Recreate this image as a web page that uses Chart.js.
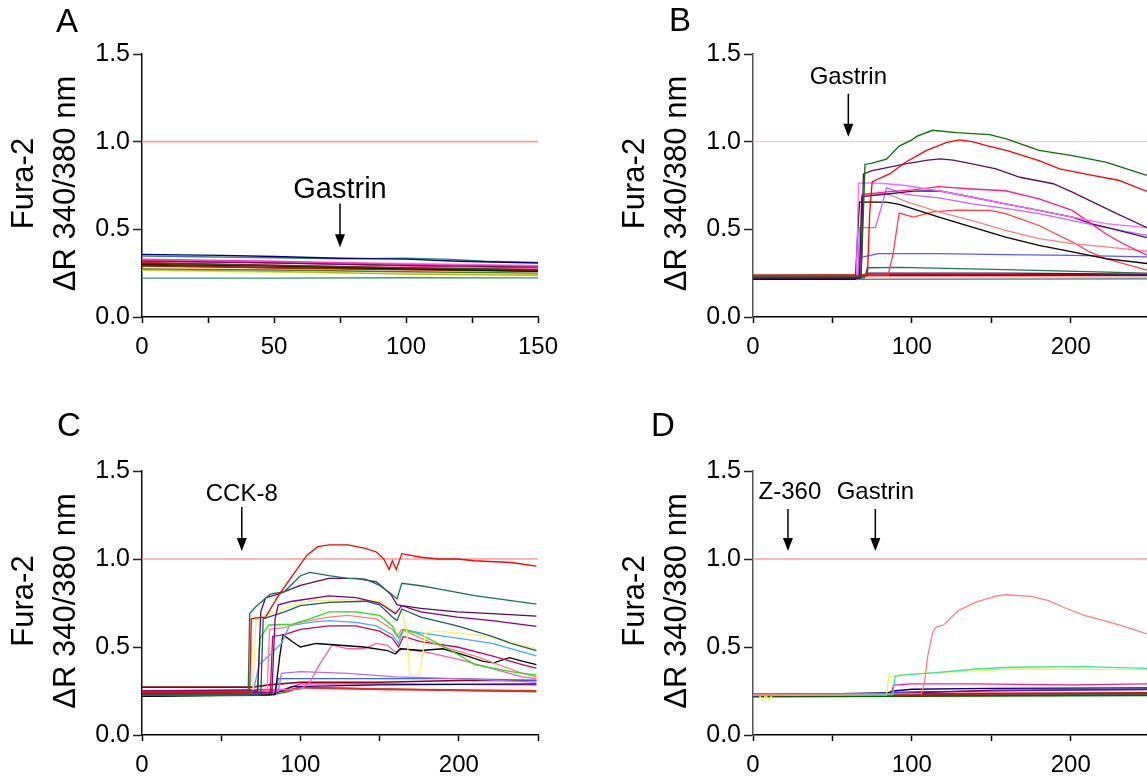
<!DOCTYPE html>
<html>
<head>
<meta charset="utf-8">
<script src="https://cdn.jsdelivr.net/npm/chart.js@4.4.0/dist/chart.umd.min.js"></script>
<style>
body { margin: 0; background: #fff; }
#fig { position: relative; width: 1147px; height: 778px; overflow: hidden; }
canvas { position: absolute; }
</style>
</head>
<body>
<div id="fig">
<canvas id="panelA" width="574" height="389" style="left:0;top:0"></canvas>
<canvas id="panelB" width="573" height="389" style="left:574px;top:0"></canvas>
<canvas id="panelC" width="574" height="389" style="left:0;top:389px"></canvas>
<canvas id="panelD" width="573" height="389" style="left:574px;top:389px"></canvas>
</div>
<script>
// axis ticks
const yTicks = [0, 0.5, 1.0, 1.5];
const xTicksA = [0, 25, 50, 75, 100, 125, 150];
const xLabelsA = [0, 50, 100, 150];
const xTicksBD = [0, 50, 100, 150, 200];
const xTicksC = [0, 50, 100, 150, 200, 250];
const xLabelsBCD = [0, 100, 200];

// panel A traces [time s, ratio]
const a_navy = [[0,0.357],[30,0.352],[50,0.345],[75,0.335],[100,0.33],[120,0.318],[150,0.308]];
const a_teal = [[0,0.348],[50,0.338],[75,0.332],[100,0.336],[115,0.33],[130,0.318],[150,0.312]];
const a_purple = [[0,0.32],[50,0.308],[100,0.295],[150,0.285]];
const a_magenta = [[0,0.33],[50,0.318],[100,0.3],[150,0.29]];
const a_pink = [[0,0.325],[50,0.315],[100,0.305],[150,0.295]];
const a_hotpink = [[0,0.318],[50,0.31],[100,0.29],[150,0.28]];
const a_dgreen = [[0,0.305],[50,0.295],[100,0.28],[150,0.27]];
const a_black = [[0,0.3],[50,0.29],[100,0.275],[150,0.26]];
const a_red = [[0,0.31],[50,0.295],[100,0.28],[150,0.27]];
const a_red2 = [[0,0.295],[50,0.28],[100,0.27],[150,0.262]];
const a_dred = [[0,0.29],[50,0.282],[100,0.272],[150,0.268]];
const a_green = [[0,0.275],[50,0.268],[100,0.258],[150,0.25]];
const a_olive = [[0,0.27],[50,0.26],[100,0.245],[150,0.238]];
const a_yellow = [[0,0.265],[50,0.255],[100,0.248],[150,0.242]];
const a_seagreen = [[0,0.222],[50,0.222],[100,0.224],[150,0.223]];

// panel B traces
const b_green = [[0,0.228],[68,0.23],[69.5,0.6],[70.5,0.87],[75,0.877],[84,0.9],[92,0.975],[100,1.01],[103,1.03],[113,1.065],[128,1.052],[149,1.04],[160,1.015],[180,0.95],[201,0.92],[222,0.883],[248,0.807]];
const b_red = [[0,0.235],[72,0.235],[73.5,0.6],[75,0.77],[77,0.78],[86,0.816],[96,0.883],[109,0.949],[122,0.996],[130,1.01],[138,1.0],[147,0.977],[160,0.949],[180,0.892],[193,0.845],[212,0.81],[230,0.78],[248,0.716]];
const b_purple = [[0,0.225],[68,0.225],[69.5,0.816],[75,0.835],[86,0.855],[96,0.873],[110,0.895],[118,0.902],[126,0.895],[138,0.873],[153,0.845],[168,0.797],[189,0.76],[201,0.712],[214,0.655],[227,0.598],[248,0.509]];
const b_violet = [[0,0.232],[65,0.232],[66.5,0.763],[75,0.765],[84,0.76],[96,0.75],[117,0.72],[138,0.683],[159,0.645],[180,0.608],[201,0.57],[222,0.532],[248,0.51]];
const b_deeppink = [[0,0.228],[68,0.228],[69.5,0.70],[86,0.715],[101,0.725],[117,0.744],[138,0.73],[159,0.72],[180,0.674],[201,0.608],[222,0.475],[233,0.418],[248,0.352]];
const b_indigo = [[0,0.22],[67,0.22],[68.5,0.687],[86,0.703],[101,0.718],[117,0.72],[138,0.683],[159,0.645],[180,0.608],[201,0.57],[214,0.53],[222,0.513],[248,0.453]];
const b_orchid = [[0,0.225],[66,0.225],[67,0.51],[77,0.51],[80,0.6],[84,0.737],[96,0.699],[117,0.68],[138,0.645],[159,0.62],[180,0.589],[201,0.55],[222,0.51],[248,0.466]];
const b_black = [[0,0.215],[64.5,0.215],[66,0.5],[67,0.655],[84,0.655],[92,0.642],[117,0.57],[138,0.513],[159,0.456],[180,0.409],[201,0.371],[222,0.333],[248,0.305]];
const b_coral = [[0,0.225],[67,0.225],[68.5,0.70],[84,0.705],[96,0.66],[117,0.60],[138,0.55],[159,0.494],[180,0.447],[201,0.419],[222,0.40],[248,0.375]];
const b_tomato = [[0,0.235],[85,0.24],[88,0.35],[92,0.593],[101,0.57],[113,0.6],[128,0.61],[149,0.608],[159,0.59],[180,0.522],[201,0.428],[212,0.371],[222,0.333],[248,0.267]];
const b_blue = [[0,0.225],[66,0.225],[67,0.338],[79,0.362],[117,0.362],[159,0.356],[201,0.352],[248,0.343]];
const b_seagreen = [[0,0.222],[70,0.222],[72,0.281],[92,0.283],[159,0.27],[248,0.25]];
const b_navy = [[0,0.23],[70,0.23],[72,0.25],[159,0.25],[248,0.245]];
const b_teal = [[0,0.215],[248,0.218]];
const b_rose = [[0,0.228],[100,0.23],[248,0.228]];
const b_dred = [[0,0.238],[248,0.238]];
const b_redbase = [[0,0.235],[100,0.24],[248,0.24]];

// panel C traces
const c_red = [[0,0.24],[68,0.24],[69,0.66],[72,0.665],[78,0.67],[86,0.79],[95,0.905],[104,1.02],[111,1.07],[118,1.08],[130,1.08],[141,1.06],[148,1.04],[152.6,1.0],[156,0.94],[158,0.99],[160.5,0.94],[164,1.03],[176,1.01],[187,1.0],[199,1.0],[210,0.99],[233,0.98],[249,0.96]];
const c_green = [[0,0.225],[67,0.225],[68,0.69],[72,0.73],[81,0.80],[90,0.815],[100,0.905],[106,0.924],[118,0.905],[130,0.89],[141,0.886],[150,0.85],[157.7,0.80],[161,0.773],[164,0.862],[176,0.848],[187,0.83],[210,0.792],[233,0.763],[249,0.744]];
const c_purple = [[0,0.25],[73,0.25],[75,0.70],[78,0.78],[86,0.80],[100,0.85],[118,0.89],[135,0.89],[148,0.87],[157,0.80],[161,0.74],[164,0.735],[176,0.72],[199,0.70],[221,0.69],[249,0.675]];
const c_purple2 = [[0,0.235],[82,0.24],[84,0.66],[86,0.74],[95,0.76],[118,0.79],[135,0.78],[150,0.75],[160,0.69],[164,0.735],[176,0.70],[199,0.67],[221,0.65],[249,0.617]];
const c_teal = [[0,0.23],[75,0.23],[76.5,0.66],[90,0.70],[100,0.735],[118,0.754],[141,0.76],[150,0.74],[158,0.67],[161,0.65],[164,0.716],[176,0.67],[199,0.62],[221,0.56],[233,0.52],[249,0.479]];
const c_yellow = [[0,0.245],[70,0.245],[72,0.66],[90,0.72],[106,0.76],[130,0.77],[150,0.76],[160,0.70],[164,0.70],[167,0.60],[169,0.34],[175,0.34],[177,0.45],[179,0.58],[187,0.59],[210,0.57],[233,0.53],[249,0.49]];
const c_lime = [[0,0.23],[73,0.23],[74.5,0.55],[80,0.625],[95,0.63],[106,0.66],[118,0.70],[135,0.70],[150,0.68],[158,0.62],[162,0.55],[165,0.60],[176,0.57],[187,0.52],[199,0.46],[210,0.40],[233,0.36],[249,0.34]];
const c_salmon = [[0,0.235],[79,0.235],[80.5,0.60],[90,0.61],[100,0.64],[118,0.67],[130,0.68],[148,0.66],[158,0.60],[161,0.56],[164,0.60],[176,0.55],[190,0.50],[210,0.45],[225,0.40],[240,0.35],[249,0.33]];
const c_skyblue = [[0,0.24],[70,0.24],[74,0.40],[80,0.45],[88,0.52],[93,0.62],[106,0.64],[118,0.65],[135,0.64],[148,0.62],[158,0.57],[162,0.52],[165,0.60],[176,0.58],[199,0.55],[221,0.52],[249,0.45]];
const c_crimson = [[0,0.24],[81,0.24],[82.5,0.56],[90,0.57],[100,0.60],[118,0.62],[135,0.62],[150,0.59],[158,0.55],[162,0.50],[165,0.56],[176,0.53],[199,0.50],[221,0.45],[240,0.40],[249,0.38]];
const c_black = [[0,0.22],[84,0.23],[87,0.45],[89,0.57],[95,0.53],[100,0.50],[110,0.52],[125,0.51],[140,0.50],[155,0.48],[160,0.46],[163,0.49],[176,0.48],[190,0.49],[205,0.45],[215,0.42],[222,0.41],[232,0.44],[240,0.42],[249,0.40]];
const c_hotpink = [[0,0.235],[100,0.26],[106,0.30],[112,0.40],[120,0.51],[130,0.49],[140,0.49],[148,0.52],[155,0.51],[160,0.47],[165,0.49],[180,0.47],[200,0.43],[220,0.38],[240,0.33],[249,0.32]];
const c_lavender = [[0,0.245],[86,0.245],[88,0.35],[100,0.36],[130,0.35],[160,0.33],[200,0.32],[249,0.30]];
const c_blue = [[0,0.24],[84,0.24],[86,0.32],[150,0.32],[200,0.32],[249,0.31]];
const c_dred = [[0,0.272],[70,0.272],[80,0.285],[100,0.30],[150,0.30],[200,0.31],[249,0.31]];
const c_navy = [[0,0.235],[85,0.24],[95,0.275],[150,0.285],[249,0.29]];
const c_redlow = [[0,0.24],[90,0.25],[100,0.27],[150,0.26],[249,0.25]];
const c_forest = [[0,0.22],[80,0.225],[92,0.245],[100,0.27],[160,0.26],[249,0.245]];
const c_magenta = [[0,0.25],[90,0.26],[100,0.29],[150,0.29],[249,0.285]];

// panel D traces
const d_salmon = [[0,0.23],[106,0.235],[108,0.30],[110,0.45],[113,0.58],[115,0.612],[120,0.625],[129,0.706],[140,0.754],[152,0.788],[159,0.797],[175,0.788],[186,0.763],[198,0.716],[209,0.678],[221,0.65],[232,0.621],[248,0.574]];
const d_spring = [[0,0.225],[88,0.23],[89.5,0.333],[94,0.34],[117,0.356],[140,0.375],[163,0.385],[209,0.388],[248,0.379]];
const d_yellow = [[0,0.225],[4,0.225],[6,0.195],[8,0.225],[10,0.2],[12,0.225],[84,0.228],[85.5,0.33],[94,0.345],[117,0.355],[163,0.375],[248,0.372]];
const d_deeppink = [[0,0.23],[87,0.232],[88.5,0.284],[100,0.29],[140,0.29],[200,0.285],[248,0.29]];
const d_navy = [[0,0.225],[82,0.228],[88,0.25],[100,0.26],[150,0.265],[248,0.268]];
const d_purple = [[0,0.228],[90,0.235],[150,0.255],[248,0.258]];
const d_blue = [[0,0.222],[100,0.245],[200,0.255],[248,0.26]];
const d_dgreen = [[0,0.218],[248,0.225]];
const d_teal = [[0,0.22],[248,0.23]];
const d_red2 = [[0,0.228],[248,0.232]];
const d_red = [[0,0.232],[100,0.235],[248,0.238]];

const FONT = '"Liberation Sans", Arial, sans-serif';

const decorPlugin = {
    id: 'decor',
    afterDraw(chart, args, opts) {
        const ctx = chart.ctx;
        const xs = chart.scales.x;
        const ys = chart.scales.y;
        const area = chart.chartArea;
        ctx.save();
        ctx.fillStyle = '#000';
        ctx.strokeStyle = '#000';

        // panel letter
        ctx.font = '33px ' + FONT;
        ctx.textAlign = 'center';
        ctx.textBaseline = 'middle';
        ctx.fillText(opts.letter, opts.letterX, opts.letterY);

        // y axis title, two lines
        const midY = (area.top + area.bottom) / 2 - 2;
        ctx.font = '31px ' + FONT;
        ['Fura-2', 'ΔR 340/380 nm'].forEach((line, i) => {
            ctx.save();
            ctx.translate(area.left + (i === 0 ? -118 : -76), midY);
            ctx.rotate(-Math.PI / 2);
            ctx.fillText(line, 0, 0);
            ctx.restore();
        });

        // arrows with labels
        opts.arrows.forEach(a => {
            const x = xs.getPixelForValue(a.x);
            const yTop = ys.getPixelForValue(a.top);
            const yTip = ys.getPixelForValue(a.tip);
            ctx.font = opts.arrowFont + 'px ' + FONT;
            ctx.textAlign = 'center';
            ctx.textBaseline = 'alphabetic';
            ctx.fillText(a.text, x + (a.dx || 0), ys.getPixelForValue(a.textY));
            ctx.lineWidth = 1.5;
            ctx.beginPath();
            ctx.moveTo(x, yTop);
            ctx.lineTo(x, yTip - 12);
            ctx.stroke();
            ctx.beginPath();
            ctx.moveTo(x - 5, yTip - 13);
            ctx.lineTo(x + 5, yTip - 13);
            ctx.lineTo(x, yTip);
            ctx.closePath();
            ctx.fill();
        });
        ctx.restore();
    }
};

function makePanel(id, traces, cfg) {
    const datasets = traces.map(([pts, color, width]) => ({
        data: pts.map(p => ({ x: p[0], y: p[1] })),
        borderColor: color,
        borderWidth: width || 1.3,
        pointRadius: 0,
        fill: false,
        tension: 0
    }));
    // 1.0 reference line, drawn underneath
    datasets.push({
        data: [{ x: 0, y: 1 }, { x: cfg.xMax, y: 1 }],
        borderColor: cfg.refColor,
        borderWidth: cfg.refWidth,
        pointRadius: 0
    });

    new Chart(document.getElementById(id), {
        type: 'line',
        data: { datasets: datasets },
        options: {
            responsive: false,
            animation: false,
            events: [],
            layout: { padding: { top: cfg.top, right: cfg.right, left: 0, bottom: 0 } },
            plugins: {
                legend: { display: false },
                tooltip: { enabled: false },
                decor: cfg.decor
            },
            scales: {
                x: {
                    type: 'linear',
                    min: 0,
                    max: cfg.xMax,
                    afterBuildTicks: s => { s.ticks = cfg.xTicks.map(v => ({ value: v })); },
                    afterFit: s => { s.height = cfg.xHeight; s.paddingLeft = 0; s.paddingRight = 0; },
                    ticks: {
                        autoSkip: false,
                        maxRotation: 0,
                        padding: 10,
                        color: '#000',
                        font: { family: FONT, size: 24 },
                        callback: v => cfg.xLabels.includes(v) ? String(v) : ''
                    },
                    grid: { drawOnChartArea: false, drawTicks: true, tickLength: 6, tickColor: '#000', tickWidth: 1.5 },
                    border: { display: true, color: '#000', width: 1.5 }
                },
                y: {
                    type: 'linear',
                    min: 0,
                    max: 1.5,
                    afterBuildTicks: s => { s.ticks = yTicks.map(v => ({ value: v })); },
                    afterFit: s => { s.width = cfg.left; s.paddingTop = 0; s.paddingBottom = 0; },
                    ticks: {
                        padding: 3,
                        color: '#000',
                        font: { family: FONT, size: 25 },
                        callback: v => v.toFixed(1)
                    },
                    grid: { drawOnChartArea: false, drawTicks: true, tickLength: 9, tickColor: '#222', tickWidth: 1.5 },
                    border: { display: true, color: cfg.yAxisColor, width: 1.5 }
                }
            }
        },
        plugins: [decorPlugin]
    });
}

makePanel('panelA', [
    [a_navy, '#000080'], [a_teal, '#2a8a8a'], [a_purple, '#800080'], [a_magenta, '#ff33cc'],
    [a_pink, '#ff80c0'], [a_hotpink, '#ff3385'], [a_dgreen, '#006400'], [a_black, '#111111'],
    [a_red, '#ff0000', 1.8], [a_red2, '#e00000', 1.8], [a_dred, '#b00000'], [a_green, '#2e8b2e'],
    [a_olive, '#c8b400'], [a_yellow, '#e8e84a'], [a_seagreen, '#2e9a7a']
], {
    xMax: 150, xTicks: xTicksA, xLabels: xLabelsA,
    left: 142, top: 54, right: 36, xHeight: 72,
    refColor: '#ff9c9c', refWidth: 1.6, yAxisColor: '#111',
    decor: {
        letter: 'A', letterX: 67, letterY: 23, arrowFont: 29,
        arrows: [{ text: 'Gastrin', x: 75, textY: 0.676, top: 0.648, tip: 0.398 }]
    }
});

makePanel('panelB', [
    [b_green, '#0a6e0a'], [b_red, '#ff0000'], [b_purple, '#5e0f5e'], [b_violet, '#ff66ff'],
    [b_deeppink, '#ff1a8c'], [b_indigo, '#4b0a6e'], [b_orchid, '#c266ff'], [b_black, '#000000'],
    [b_coral, '#ff8080'], [b_tomato, '#ff4040'], [b_blue, '#5a5aff'], [b_seagreen, '#1f7a4a'],
    [b_navy, '#1a1a99'], [b_teal, '#2f7f7f'], [b_rose, '#ff9999'], [b_dred, '#a00000'],
    [b_redbase, '#ff0000', 2]
], {
    xMax: 248, xTicks: xTicksBD, xLabels: xLabelsBCD,
    left: 179, top: 54, right: 0, xHeight: 72,
    refColor: '#ffc0c0', refWidth: 1, yAxisColor: '#555',
    decor: {
        letter: 'B', letterX: 106, letterY: 22, arrowFont: 24,
        arrows: [{ text: 'Gastrin', x: 60, textY: 1.33, top: 1.273, tip: 1.028 }]
    }
});

makePanel('panelC', [
    [c_red, '#ff0000'], [c_green, '#1e6e50'], [c_purple, '#5c0a5c'], [c_purple2, '#800080'],
    [c_teal, '#1d5a6a'], [c_yellow, '#f5f56a'], [c_lime, '#22dd22'], [c_salmon, '#ff7f7f'],
    [c_skyblue, '#4da6ff'], [c_crimson, '#cc0066'], [c_black, '#000000'], [c_hotpink, '#ff5fa0'],
    [c_lavender, '#b36bff'], [c_blue, '#3366ff'], [c_dred, '#990000', 1.6], [c_navy, '#000080'],
    [c_redlow, '#ff2020', 1.8], [c_forest, '#2a8a2a'], [c_magenta, '#ff00cc']
], {
    xMax: 250, xTicks: xTicksC, xLabels: xLabelsBCD,
    left: 142, top: 82, right: 36, xHeight: 43,
    refColor: '#ff9c9c', refWidth: 1.6, yAxisColor: '#111',
    decor: {
        letter: 'C', letterX: 69, letterY: 38, arrowFont: 24,
        arrows: [{ text: 'CCK-8', x: 63, textY: 1.33, top: 1.295, tip: 1.045 }]
    }
});

makePanel('panelD', [
    [d_salmon, '#ff7f7f'], [d_spring, '#33e899'], [d_yellow, '#f0f060'], [d_deeppink, '#ff1a8c'],
    [d_navy, '#000080'], [d_purple, '#800080'], [d_blue, '#3333cc'], [d_dgreen, '#006400', 1.6],
    [d_teal, '#2f7f7f'], [d_red2, '#e00000', 1.8], [d_red, '#ff0000', 2]
], {
    xMax: 248, xTicks: xTicksBD, xLabels: xLabelsBCD,
    left: 179, top: 82, right: 0, xHeight: 43,
    refColor: '#ff9c9c', refWidth: 1.6, yAxisColor: '#555',
    decor: {
        letter: 'D', letterX: 89, letterY: 38, arrowFont: 24,
        arrows: [
            { text: 'Z-360', x: 22, dx: 2, textY: 1.34, top: 1.284, tip: 1.045 },
            { text: 'Gastrin', x: 77, textY: 1.34, top: 1.284, tip: 1.045 }
        ]
    }
});
</script>
</body>
</html>
